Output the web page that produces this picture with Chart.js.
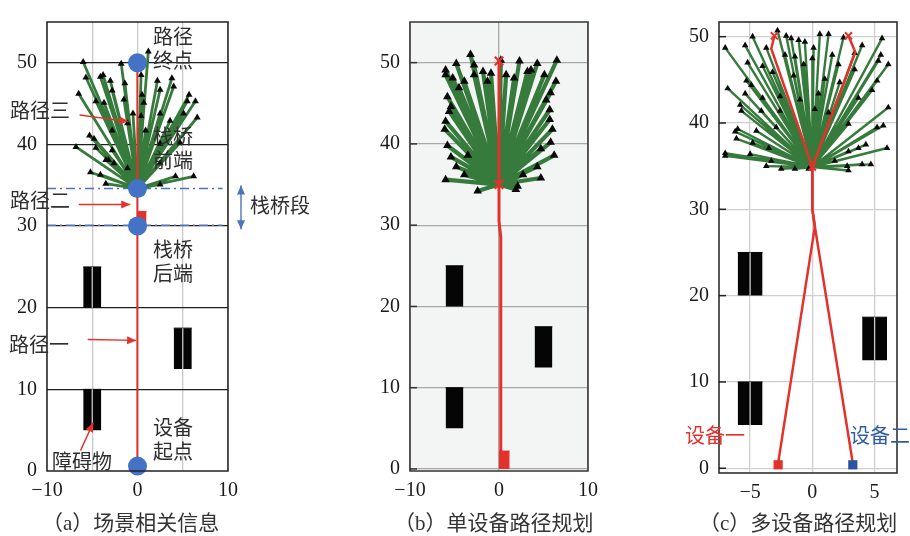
<!DOCTYPE html>
<html>
<head>
<meta charset="utf-8">
<script src="https://cdn.jsdelivr.net/npm/chart.js@4.4.1/dist/chart.umd.min.js"></script>
<style>
body { margin: 0; width: 910px; height: 536px; background: #fff; position: relative; overflow: hidden; }
canvas { position: absolute; left: 0; top: 0; }
.t { position: absolute; font-family: "Noto Sans CJK SC", sans-serif; font-size: 20px; line-height: 20px; color: #2e2e2e; white-space: pre; }
.two { line-height: 24px; }
.cap { position: absolute; top: 511px; font-family: "Liberation Serif", "Noto Sans CJK SC", serif; font-size: 21px; line-height: 24px; color: #333; white-space: pre; }
</style>
</head>
<body>
<canvas id="ca" width="910" height="536"></canvas>
<canvas id="cb" width="910" height="536"></canvas>
<canvas id="cc" width="910" height="536"></canvas>

<div class="t two" style="left:153px;top:24px">路径
终点</div>
<div class="t two" style="left:153px;top:124px">栈桥
前端</div>
<div class="t two" style="left:153px;top:237px">栈桥
后端</div>
<div class="t two" style="left:153px;top:415px">设备
起点</div>
<div class="t" style="left:10px;top:100px">路径三</div>
<div class="t" style="left:10px;top:190px">路径二</div>
<div class="t" style="left:9px;top:334px">路径一</div>
<div class="t" style="left:52px;top:451px">障碍物</div>
<div class="t" style="left:250px;top:195px">栈桥段</div>
<div class="t" style="left:685px;top:425px;color:#e5302c">设备一</div>
<div class="t" style="left:850px;top:425px;color:#2f5ca8">设备二</div>

<div class="cap" style="left:42px">（a）场景相关信息</div>
<div class="cap" style="left:394px">（b）单设备路径规划</div>
<div class="cap" style="left:699px">（c）多设备路径规划</div>

<script>
// ---- data ----
var yTicks = [0, 10, 20, 30, 40, 50]
var xTicksA = [-10, -5, 0, 5, 10]
var xTicksB = [-10, 0, 10]
var xTicksC = [-5, 0, 5]

// obstacles (same scene in all three panels)
var obsX0 = [-6, 4, -6]
var obsX1 = [-4, 6, -4]
var obsY0 = [20, 12.5, 5]
var obsY1 = [25, 17.5, 10]

// (a) scene
var nodeAX = [0, 0, 0, 0]
var nodeAY = [0.6, 30, 34.6, 50]
var bridgeY = [34.6, 30.1]
var pathAX = [0.05, -0.05, 0, 0]
var pathAY = [0, 30, 34.6, 50]
var markAX = [0, 1.0]
var markAY = [30, 31.8]
var tipAX = [-6.0, -1.8, 1.2, -5.7, -3.8, -3.0, -1.4, 0.4, 2.2, 3.8, -6.5, -2.8, 0.5, 2.5, 5.7, -4.6, -3.7, -1.5, 5.5, 6.4, 0.4, -0.5, 2.5, 5.1, 6.6, 3.6, -1.1, -5.3, -4.8, -2.8, -6.8, -4.6, -2.8, 2.5, 4.7, -3.5, -2.6, -5.2, -4.1, -1.1, 2.5, 4.2, 6.2, 2.5, -3.5, -4.1, 4.0, 0.7, 0.9, -3.2]
var tipAY = [50.1, 49.9, 51.4, 48.2, 48.5, 47.8, 47.5, 48.5, 47.8, 48.1, 46.2, 46.6, 46.1, 46.7, 46.1, 45.3, 45.1, 45.5, 45.3, 45.3, 43.5, 43.8, 43.8, 43.8, 43.3, 42.9, 42.6, 41.1, 40.7, 41.7, 39.7, 39.6, 39.3, 40.1, 40.2, 38.1, 37.7, 36.6, 36.3, 37.1, 37.7, 36.1, 36.1, 35.1, 35.2, 48.3, 47.1, 45.1, 41.7, 38.1]

// (b) single device
var pathBX = [0.2, 0.2, 0, 0, 0]
var pathBY = [0, 28.5, 30.5, 35, 50.3]
var crossBX = [0, 0]
var crossBY = [50.2, 35]
var startBX = [0, 1.2]
var startBY = [0, 2.2]
var tipBX = [-3.2, -4.8, -6.0, -2.8, 0.2, 2.3, 3.6, 4.3, 6.5, -6.0, -5.2, -3.9, -2.8, -1.3, 0.8, 3.2, 5.1, 6.4, 5.8, -5.8, -5.6, 5.3, 5.7, -6.0, -6.1, 6.0, 5.7, -5.8, 5.8, -5.4, 4.7, -3.9, -6.0, 4.7, 2.7, 2.1, -2.4, 1.9, -4.5, -5.4, -0.9, -1.8, 1.7, 6.2, 4.3, -4.8, -3.5]
var tipBY = [51.0, 49.9, 49.1, 49.7, 50.3, 50.2, 49.1, 49.9, 50.3, 48.5, 48.1, 47.7, 48.5, 47.7, 48.5, 48.9, 48.5, 47.7, 46.3, 45.8, 44.0, 45.4, 44.2, 42.8, 41.8, 41.8, 43.0, 39.8, 40.2, 38.4, 39.4, 36.2, 35.6, 35.8, 36.2, 34.8, 34.2, 34.4, 46.9, 44.6, 48.7, 48.9, 48.1, 38.6, 37.2, 37.2, 38.6]

// (c) two devices
var path1CX = [-2.75, 0.2, 0, 0, -3.3, -3.05]
var path1CY = [0.6, 28, 30, 34.9, 48.6, 50.1]
var path2CX = [3.25, 0.2, 0, 0, 3.45, 2.9]
var path2CY = [0.6, 28, 30, 34.9, 48.2, 50.1]
var crossCX = [-3.05, 2.9, 0]
var crossCY = [50.1, 50.1, 34.9]
var startCX = [-2.75, 3.25]
var startCY = [0.4, 0.4]
var tipCX = [-2.8, -2.1, -1.7, -1.1, -0.6, -4.8, -5.4, -7.0, -3.7, -2.2, -1.4, -0.7, -4.0, -5.2, -3.2, -1.5, -5.3, -4.9, -6.8, -5.4, -4.0, -2.6, -1.0, -5.8, -5.7, -4.1, -2.6, -6.0, -6.2, -6.1, -4.5, -2.9, -4.8, -3.5, -7.0, -7.0, -5.0, -3.3, -3.7, -2.5, -1.4, -0.3,
  0.6, 1.3, 2.5, 5.6, 0.1, 4.0, 3.4, 1.6, 5.5, 5.3, 6.1, 0.0, 2.1, 3.4, 5.2, 1.0, 2.2, 4.8, 0.5, 3.7, 0.2, 1.3, 6.1, 5.2, 5.7, 2.9, 6.0, 4.3, 3.7, 2.9, 1.8, 2.8, 4.0, 4.7, 2.9]
var tipCY = [50.7, 50.1, 49.8, 49.6, 49.4, 50.0, 49.0, 48.7, 48.7, 47.9, 47.7, 46.8, 46.6, 47.0, 45.9, 45.5, 44.9, 44.4, 44.0, 43.4, 42.9, 43.1, 42.7, 42.1, 41.4, 41.4, 41.4, 39.3, 39.0, 38.2, 39.1, 39.5, 37.7, 37.1, 36.5, 36.2, 36.4, 35.6, 35.0, 34.7, 34.7, 34.7,
  50.3, 50.3, 49.9, 49.8, 48.7, 49.0, 48.1, 47.9, 47.9, 47.2, 46.8, 47.5, 46.8, 46.2, 44.9, 45.1, 44.7, 43.8, 43.4, 42.9, 41.6, 41.2, 41.8, 39.5, 39.7, 39.9, 37.1, 37.5, 37.1, 36.7, 35.6, 35.0, 35.2, 35.2, 34.5]

// ---- annotation arrows in panel (a), in data units ----
var noteTailX = [-6.4, -6.5, -5.5, -6.3]
var noteTailY = [43.6, 32.65, 16.1, 2.5]
var noteHeadX = [-1.0, -0.8, -0.15, -4.9]
var noteHeadY = [42.8, 32.65, 16.0, 5.9]

var RED = '#e3312c'
var GREEN = '#377b3c'

function fmt (v) { return v < 0 ? '\u2212' + (-v) : String(v) }
function pts (xs, ys) { return xs.map(function (x, i) { return { x: x, y: ys[i] } }) }
function rays (ox, oy, xs, ys) {
  var d = []
  xs.forEach(function (x, i) { d.push({ x: ox, y: oy }); d.push({ x: x, y: ys[i] }) })
  return d
}
function box (x0, x1, y0, y1, color) {
  return { data: [{ x: x0, y: y1 }, { x: x1, y: y1 }], showLine: true, fill: { value: y0 },
    backgroundColor: color, borderColor: color, borderWidth: 1, pointRadius: 0 }
}
function obstacles () {
  return obsX0.map(function (x0, i) { return box(x0, obsX1[i], obsY0[i], obsY1[i], '#050505') })
}
function rayFan (ox, oy, xs, ys, w) {
  return { data: rays(ox, oy, xs, ys), showLine: true, borderColor: GREEN, borderWidth: w,
    borderJoinStyle: 'round', pointRadius: 0 }
}
function tipSet (xs, ys, r) {
  return { data: pts(xs, ys), pointStyle: 'triangle', pointRadius: r, backgroundColor: '#0a0a0a',
    borderColor: '#0a0a0a', borderWidth: 0 }
}
function line (xs, ys, color, w) {
  return { data: pts(xs, ys), showLine: true, borderColor: color, borderWidth: w, pointRadius: 0 }
}

function axis (min, max, ticks, labelFn, gridColor, horizontal) {
  return {
    type: 'linear', min: min, max: max,
    afterBuildTicks: function (s) { s.ticks = ticks.map(function (v) { return { value: v } }) },
    afterFit: function (s) { if (horizontal) s.height = 30; else s.width = 40 },
    ticks: { autoSkip: false, maxRotation: 0, padding: horizontal ? 8 : 10, color: '#1a1a1a',
      font: { family: 'Liberation Serif', size: 20 }, callback: labelFn },
    grid: { color: gridColor, lineWidth: 1.3, drawTicks: false },
    border: { display: false }
  }
}

function arrow (ctx, x1, y1, x2, y2, color, both) {
  var a = Math.atan2(y2 - y1, x2 - x1), L = 9, W = 4
  ctx.strokeStyle = color; ctx.fillStyle = color; ctx.lineWidth = 1.4
  ctx.beginPath(); ctx.moveTo(x1, y1); ctx.lineTo(x2, y2); ctx.stroke()
  function head (x, y, ang) {
    ctx.beginPath(); ctx.moveTo(x, y)
    ctx.lineTo(x - L * Math.cos(ang) + W * Math.sin(ang), y - L * Math.sin(ang) - W * Math.cos(ang))
    ctx.lineTo(x - L * Math.cos(ang) - W * Math.sin(ang), y - L * Math.sin(ang) + W * Math.cos(ang))
    ctx.closePath(); ctx.fill()
  }
  head(x2, y2, a)
  if (both) head(x1, y1, a + Math.PI)
}

var framePlugin = {
  id: 'frame',
  beforeDraw: function (chart, args, o) {
    if (!o.bg) return
    var a = chart.chartArea, ctx = chart.ctx
    ctx.save(); ctx.fillStyle = o.bg
    ctx.fillRect(a.left, a.top, a.right - a.left, a.bottom - a.top); ctx.restore()
  },
  afterDatasetsDraw: function (chart, args, o) {
    // vertical grid lines stay visible across the obstacles
    var xs = chart.scales.x, ys = chart.scales.y, ctx = chart.ctx
    ctx.save(); ctx.strokeStyle = o.grid; ctx.lineWidth = 1.3
    obsX0.forEach(function (x0, i) {
      xs.ticks.forEach(function (t) {
        if (t.value > x0 && t.value < obsX1[i]) {
          var px = xs.getPixelForValue(t.value)
          ctx.beginPath(); ctx.moveTo(px, ys.getPixelForValue(obsY0[i]))
          ctx.lineTo(px, ys.getPixelForValue(obsY1[i])); ctx.stroke()
        }
      })
    })
    ctx.restore()
  },
  afterDraw: function (chart, args, o) {
    var a = chart.chartArea, ctx = chart.ctx, ys = chart.scales.y, xs = chart.scales.x
    ctx.save()
    ctx.strokeStyle = o.color; ctx.lineWidth = o.width
    ctx.strokeRect(a.left, a.top, a.right - a.left, a.bottom - a.top)
    if (o.inTicks) {
      ys.ticks.forEach(function (t) {
        var py = ys.getPixelForValue(t.value)
        ctx.beginPath(); ctx.moveTo(a.left, py); ctx.lineTo(a.left + 7, py); ctx.stroke()
      })
    }
    if (o.notes) {
      noteTailX.forEach(function (x, i) {
        arrow(ctx, xs.getPixelForValue(x), ys.getPixelForValue(noteTailY[i]),
          xs.getPixelForValue(noteHeadX[i]), ys.getPixelForValue(noteHeadY[i]), RED, false)
      })
      // bridge section marker, just right of the frame
      var bx = a.right + 13
      arrow(ctx, bx, ys.getPixelForValue(bridgeY[0]) - 3, bx, ys.getPixelForValue(bridgeY[1]) + 4, '#4a74bb', true)
    }
    ctx.restore()
  }
}

function opts (pad, x, y, frame) {
  return {
    responsive: false, animation: false,
    layout: { padding: pad, autoPadding: false },
    plugins: { legend: { display: false }, tooltip: { enabled: false }, frame: frame },
    scales: { x: x, y: y }
  }
}

// ---- (a) ----
var dashA = bridgeY.map(function (v) {
  return { data: [{ x: -10, y: v }, { x: 9.4, y: v }], showLine: true, borderColor: '#4a74bb',
    borderWidth: 1.6, borderDash: [9, 4, 2, 4], pointRadius: 0 }
})
new Chart(document.getElementById('ca'), {
  type: 'scatter',
  data: {
    datasets: [
      { data: pts(nodeAX, nodeAY), pointRadius: 9.5, backgroundColor: '#4472c4', borderWidth: 0, clip: false },
      line(pathAX, pathAY, RED, 2),
      box(markAX[0], markAX[1], markAY[0], markAY[1], RED),
      tipSet(tipAX, tipAY, 4),
      rayFan(0, 34.6, tipAX, tipAY, 2.8)
    ].concat(dashA, obstacles())
  },
  plugins: [framePlugin],
  options: opts({ left: 7, right: 682, top: 14, bottom: 35 },
    axis(-10, 10, xTicksA, function (v) { return v % 10 === 0 ? fmt(v) : '' }, '#c9c9c9', true),
    axis(0, 55, yTicks, fmt, function (c) { return c.tick && c.tick.value === 0 ? 'rgba(0,0,0,0)' : '#1e1e1e' }, false),
    { color: '#222', width: 1.5, grid: '#c9c9c9', notes: true })
})

// ---- (b) ----
new Chart(document.getElementById('cb'), {
  type: 'scatter',
  data: {
    datasets: [
      { data: pts(crossBX, crossBY), pointStyle: 'crossRot', pointRadius: 6, borderColor: RED, borderWidth: 2.2 },
      line(pathBX, pathBY, RED, 3),
      box(startBX[0], startBX[1], startBY[0], startBY[1], RED),
      tipSet(tipBX, tipBY, 5),
      rayFan(0, 35, tipBX, tipBY, 4.2)
    ].concat(obstacles())
  },
  plugins: [framePlugin],
  options: opts({ left: 370, right: 322, top: 10, bottom: 35 },
    axis(-10, 10, xTicksB, fmt, '#a8a8a8', true),
    axis(-0.25, 55, yTicks, fmt, '#a8a8a8', false),
    { color: '#333', width: 1.5, grid: '#a8a8a8', bg: '#f3f5f4', inTicks: true })
})

// ---- (c) ----
new Chart(document.getElementById('cc'), {
  type: 'scatter',
  data: {
    datasets: [
      { data: pts(crossCX, crossCY), pointStyle: 'crossRot', pointRadius: 5, borderColor: RED, borderWidth: 2 },
      { data: [pts(startCX, startCY)[0]], pointStyle: 'rect', pointRadius: 6.5, backgroundColor: RED, borderWidth: 0 },
      { data: [pts(startCX, startCY)[1]], pointStyle: 'rect', pointRadius: 6.5, backgroundColor: '#2a55a3', borderWidth: 0 },
      line(path1CX, path1CY, RED, 2.5),
      line(path2CX, path2CY, RED, 2.5),
      tipSet(tipCX, tipCY, 3.8),
      rayFan(0, 34.9, tipCX, tipCY, 2.4)
    ].concat(obstacles())
  },
  plugins: [framePlugin],
  options: opts({ left: 679, right: 13, top: 6, bottom: 33 },
    axis(-7.5, 6.8, xTicksC, fmt, '#cfcfcf', true),
    axis(-0.55, 51.7, yTicks, fmt, '#cfcfcf', false),
    { color: '#222', width: 1.5, grid: '#cfcfcf', inTicks: true })
})
</script>
</body>
</html>
